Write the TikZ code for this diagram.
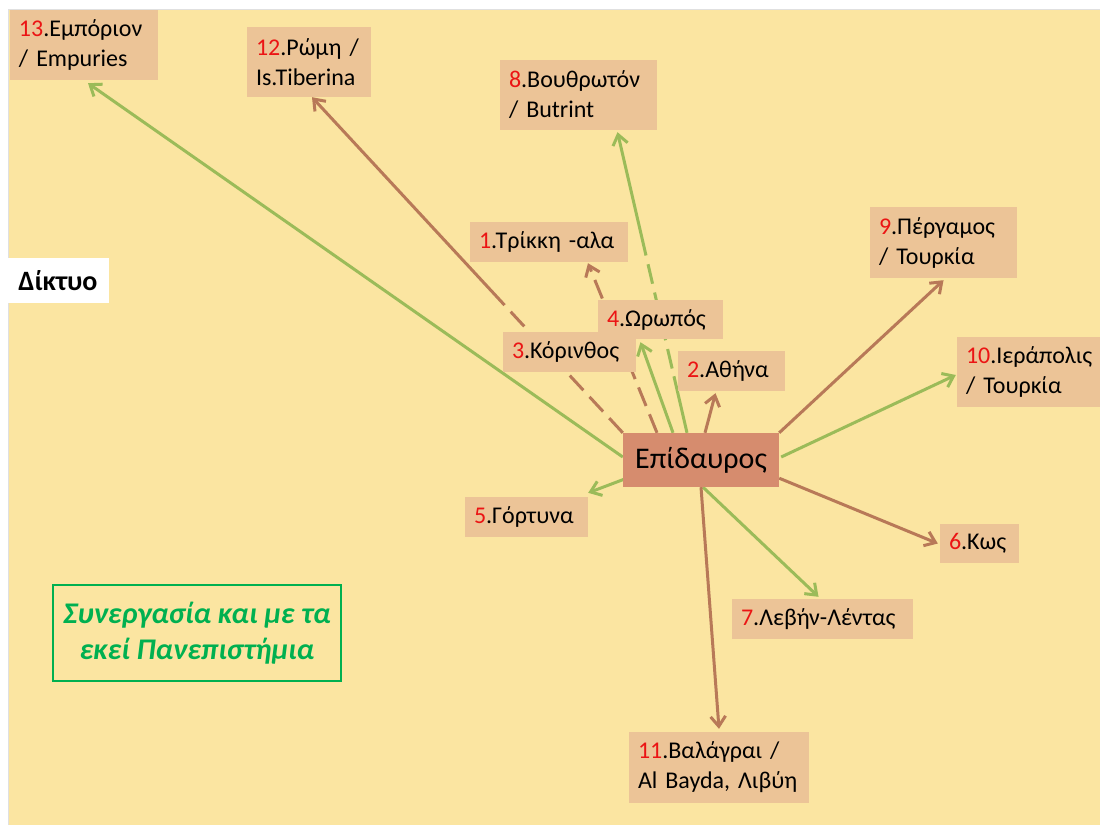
\documentclass[tikz,border=0pt]{standalone}
\usepackage{fontspec}
\setmainfont{Carlito}
\usetikzlibrary{arrows.meta}
\definecolor{slide}{RGB}{251,229,161}
\definecolor{boxtan}{RGB}{236,196,151}
\definecolor{epicol}{RGB}{214,140,110}
\definecolor{brownln}{RGB}{184,121,88}
\definecolor{greenln}{RGB}{155,187,89}
\definecolor{notegreen}{RGB}{0,176,80}
\definecolor{numred}{RGB}{235,20,20}
\newcommand{\nr}[1]{\textcolor{numred}{#1}}
\pgfdeclarelayer{bg}
\pgfdeclarelayer{links}
\pgfsetlayers{bg,links,main}

\begin{document}
\begin{tikzpicture}[x=1pt, y=-1pt,
  place/.style={fill=boxtan, inner xsep=9pt, inner ysep=0pt, align=left, font=\fontsize{24}{30}\selectfont},
  brownarr/.style={-{Straight Barb[length=10pt,width=15pt]}, line width=3pt, brownln},
  greenarr/.style={-{Straight Barb[length=10pt,width=15pt]}, line width=3pt, greenln},
  longdash/.style={dash pattern=on 20pt off 9pt}]
\useasboundingbox (0,0) rectangle (1100,825);

\node[place, text width=130pt, minimum height=70pt] (emporion) at (84,45) {\nr{13}.Εμπόριον\\/ Empuries};
\node[place, text width=106pt, minimum height=70pt] (rome) at (309,62) {\nr{12}.Ρώμη~/\\Is.Tiberina};
\node[place, text width=139pt, minimum height=70pt] (butrint) at (578.5,95) {\nr{8}.Βουθρωτόν\\/ Butrint};
\node[place, text width=140pt, minimum height=40pt] (trikki) at (549,242) {\nr{1}.Τρίκκη~-αλα};
\node[place, text width=129pt, minimum height=71pt] (pergamos) at (943.5,242.5) {\nr{9}.Πέργαμος\\/ Τουρκία};
\node[place, text width=107pt, minimum height=39pt] (oropos) at (660.5,319.5) {\nr{4}.Ωρωπός};
\node[place, text width=115pt, minimum height=40pt] (korinthos) at (569.5,352) {\nr{3}.Κόρινθος};
\node[place, text width=89pt, minimum height=40pt] (athina) at (731.5,371) {\nr{2}.Αθήνα};
\node[place, text width=125pt, minimum height=70pt] (hierapolis) at (1028.5,372) {\nr{10}.Ιεράπολις\\/ Τουρκία};
\node[fill=epicol, minimum width=156pt, minimum height=54pt, inner sep=0pt, font=\fontsize{30}{35}\selectfont] (epidavros) at (701,460) {Επίδαυρος};
\node[place, text width=105pt, minimum height=40pt] (gortyna) at (526.5,517) {\nr{5}.Γόρτυνα};
\node[place, text width=61pt, minimum height=39pt] (kos) at (979.5,543.5) {\nr{6}.Κως};
\node[place, text width=163pt, minimum height=40pt] (levin) at (822.5,619) {\nr{7}.Λεβήν-Λέντας};
\node[place, text width=162pt, minimum height=71pt] (balagrai) at (719,767.5) {\nr{11}.Βαλάγραι~/\\Al~Bayda,~Λιβύη};

\node[fill=white, minimum width=101pt, minimum height=45pt, inner sep=0pt, font=\fontsize{28}{30}\selectfont\bfseries] (diktyo) at (58,280.5) {Δίκτυο};
\node[draw=notegreen, line width=2.5pt, text=notegreen, minimum width=288pt, minimum height=96pt, inner sep=0pt, align=center,
  font=\fontsize{30}{36}\selectfont\bfseries\itshape] (note) at (197,633) {Συνεργασία και με τα\\εκεί Πανεπιστήμια};

\begin{pgfonlayer}{bg}
  \fill[white] (0,0) rectangle (1100,825);
  \fill[slide] (8,9) rectangle (1100,825);
  \draw[black!12, line width=1pt] (8,825) -- (8,9) -- (1100,9);
\end{pgfonlayer}

\begin{pgfonlayer}{links}
  \draw[greenarr] ([yshift=3pt]epidavros.west) -- ([xshift=4pt,yshift=-3pt]emporion.south);
  \draw[brownarr, dash pattern=on 20pt off 9pt on 20pt off 9pt on 20pt off 9pt on 20pt off 9pt on 20pt off 9pt on 20pt off 9pt on 600pt off 1pt] (epidavros.north west) -- ([xshift=3pt]rome.south);
  \draw[greenarr, dash pattern=on 58pt off 8pt on 20pt off 9pt on 20pt off 9pt on 20pt off 9pt on 20pt off 9pt on 600pt off 1pt] ([xshift=-14pt]epidavros.north) -- ([xshift=39pt,yshift=-2pt]butrint.south);
  \draw[brownarr, longdash] ([xshift=-44pt]epidavros.north) -- ([xshift=39pt,yshift=-1pt]trikki.south);
  \draw[greenarr] ([xshift=-28pt]epidavros.north) -- ([xshift=-20pt,yshift=-3pt]oropos.south);
  \draw[brownarr] ([xshift=4pt]epidavros.north) -- ([xshift=-16pt,yshift=-2pt]athina.south);
  \draw[brownarr] (epidavros.north east) -- ([yshift=-2pt]pergamos.south);
  \draw[greenarr] ([xshift=2pt,yshift=3pt]epidavros.east) -- ([xshift=-1pt,yshift=-3pt]hierapolis.west);
  \draw[greenarr] ([xshift=4pt,yshift=9pt]epidavros.south west) -- ([yshift=4pt]gortyna.north east);
  \draw[brownarr] ([yshift=9pt]epidavros.south east) -- ([xshift=-2pt]kos.west);
  \draw[greenarr] ([xshift=2pt]epidavros.south) -- ([xshift=-4pt,yshift=2pt]levin.north);
  \draw[brownarr] (epidavros.south) -- ([yshift=3pt]balagrai.north);
\end{pgfonlayer}
\end{tikzpicture}
\end{document}
